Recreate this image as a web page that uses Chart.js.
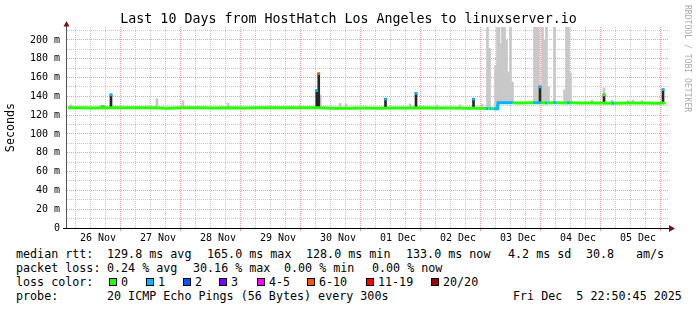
<!DOCTYPE html>
<html>
<head>
<meta charset="utf-8">
<script src="https://cdn.jsdelivr.net/npm/chart.js@4.4.1/dist/chart.umd.min.js"></script>
<style>
  body { margin: 0; background: #fff; }
  #wrap { position: relative; width: 697px; height: 310px; font-family: "DejaVu Sans Mono", monospace; color: #000; overflow: hidden; }
  #box { position: absolute; left: 0; top: 0; width: 697px; height: 245px; }
  #title { position: absolute; left: 0; top: 11px; width: 697px; text-align: center; font-size: 13.3px; line-height: 16px; white-space: pre; }
  #credit { position: absolute; left: 683px; top: 5px; writing-mode: vertical-rl; font-size: 8.1px; line-height: 10px; color: #aaa; white-space: pre; }
  .t { position: absolute; white-space: pre; font-size: 11.7px; line-height: 14px; }
  .sw { position: absolute; top: 278px; width: 6px; height: 6px; border: 1px solid #000; }
</style>
</head>
<body>
<div id="wrap">
  <div id="box"><canvas id="grafico"></canvas></div>
  <div id="title">Last 10 Days from HostHatch Los Angeles to linuxserver.io</div>
  <div id="credit">RRDTOOL / TOBI OETIKER</div>

  <span class="t" style="left:16px;top:247px">median rtt:</span>
  <span class="t" style="left:107px;top:247px">129.8 ms avg</span>
  <span class="t" style="left:207px;top:247px">165.0 ms max</span>
  <span class="t" style="left:306px;top:247px">128.0 ms min</span>
  <span class="t" style="left:406px;top:247px">133.0 ms now</span>
  <span class="t" style="left:508px;top:247px">4.2 ms sd</span>
  <span class="t" style="left:586px;top:247px">30.8</span>
  <span class="t" style="left:636px;top:247px">am/s</span>

  <span class="t" style="left:16px;top:261px">packet loss:</span>
  <span class="t" style="left:107px;top:261px">0.24 % avg</span>
  <span class="t" style="left:193px;top:261px">30.16 % max</span>
  <span class="t" style="left:284px;top:261px">0.00 % min</span>
  <span class="t" style="left:372px;top:261px">0.00 % now</span>

  <span class="t" style="left:16px;top:275px">loss color:</span>
  <div id="lossLegend"></div>

  <span class="t" style="left:16px;top:289px">probe:</span>
  <span class="t" style="left:107px;top:289px">20 ICMP Echo Pings (56 Bytes) every 300s</span>
  <span class="t" style="left:513px;top:289px">Fri Dec  5 22:50:45 2025</span>
</div>
<script>
// rótulos dos dias (eixo x, horas desde 26 Nov 00:00)
const dayLabels = ['26 Nov', '27 Nov', '28 Nov', '29 Nov', '30 Nov', '01 Dec', '02 Dec', '03 Dec', '04 Dec', '05 Dec'];

// cores de perda (smokeping)
const lossLabels = ['0', '1', '2', '3', '4-5', '6-10', '11-19', '20/20'];
const lossColors = ['#26ff00', '#00b8ff', '#0059ff', '#7e00ff', '#ff00ff', '#ff5500', '#ff0000', '#a10000'];

// mediana (ms) e pacotes perdidos
const medianHours = [0, 5, 10, 16, 22, 28, 34, 40, 46, 52, 58, 64, 70, 76, 82, 88, 94, 100, 106, 112, 118, 124, 130, 136, 142, 148, 154, 160, 164,
  167.2, 168.1, 168.8, 169.5, 170.1, 171.8, 172.0, 177.9, 180, 186.0, 189.0, 190.8, 191.7, 194.1, 195.5, 199.5, 200.8, 206, 212, 217.6, 218.4, 224, 230, 236, 238.8];
const medianMs = [127.9, 128.0, 127.6, 127.9, 128.0, 127.8, 127.9, 127.5, 127.8, 128.0, 127.7, 127.9, 127.6, 127.9, 127.8, 128.0, 127.8, 127.9, 127.3, 127.5, 127.6, 127.5, 127.7, 127.6, 127.8, 127.6, 127.7, 127.5, 127.3,
  127.1, 127.0, 127.0, 127.0, 126.9, 126.9, 133.2, 133.3, 133.0, 133.1, 133.2, 133.0, 133.0, 133.1, 133.2, 133.0, 133.1, 132.9, 133.0, 132.8, 132.8, 132.9, 133.0, 132.8, 133.0];
const medianLoss = [0, 0, 0, 0, 0, 0, 0, 0, 0, 0, 0, 0, 0, 0, 0, 0, 0, 0, 0, 0, 0, 0, 0, 0, 0, 0, 0, 0, 0,
  0, 1, 0, 1, 0, 1, 1, 1, 0, 0, 1, 0, 1, 0, 1, 0, 1, 0, 0, 0, 1, 0, 0, 0, 0];

// fumaça (faixa dos pings)
const smokeHours = [1.2, 12.8, 35.6, 46, 64, 92.8, 100.9, 108.8, 111.2, 136.8, 147.6, 156.8, 165.6,
  167.8, 168.6, 171.0, 171.8, 172.4, 173.0, 173.8, 174.6, 175.4, 176.2, 177.0, 177.8,
  186.6, 187.4, 188.2, 189.8, 190.6, 191.4, 192.2, 194.6, 198.6, 199.4, 200.2, 201.0,
  209.6, 214.4, 217.6, 224, 226, 229.6];
const smokeLow = [127.9, 127.9, 127.9, 127.9, 127.9, 127.9, 127.9, 127.4, 127.4, 127.6, 127.6, 127.6, 127.2,
  127, 127, 127, 127, 133, 133, 133, 133, 133, 133, 133, 133,
  133, 133, 133, 133, 133, 133, 133, 133, 133, 133, 133, 133,
  133, 133, 133, 133, 133, 133];
const smokeHigh = [131, 130, 137.5, 135.5, 133, 131, 141, 132.5, 132, 132, 131, 131, 132,
  230, 191, 173, 230, 230, 196, 230, 230, 200, 166, 230, 155,
  230, 230, 230, 230, 200, 230, 150, 230, 147, 230, 230, 165,
  136, 149, 136, 135.5, 136, 135.5];

// picos escuros e perda no topo de cada um
const spikeHours = [14.0, 17.2, 99.5, 100.3, 127.0, 139.2, 162.2, 188.8, 214.4, 238.0];
const spikeLow = [127.9, 127.9, 127.9, 127.9, 127.6, 127.6, 127.5, 133, 133, 133];
const spikeHigh = [130.5, 142.5, 147, 165, 138, 144, 138, 151, 142.5, 148];
const spikeLoss = [0, 1, 1, 7, 1, 1, 1, 1, 0, 1];

function bucket(n) {
  if (n <= 3) return n;
  if (n <= 5) return 4;
  if (n <= 10) return 5;
  if (n <= 19) return 6;
  return 7;
}

// legenda das cores de perda
const swatchX = [109, 146, 183, 219, 257, 307, 366, 431];
const legend = document.getElementById('lossLegend');
lossLabels.forEach((lab, i) => {
  const sw = document.createElement('div');
  sw.className = 'sw';
  sw.style.left = swatchX[i] + 'px';
  sw.style.background = lossColors[i];
  legend.appendChild(sw);
  const tx = document.createElement('span');
  tx.className = 't';
  tx.style.left = (swatchX[i] + 12) + 'px';
  tx.style.top = '275px';
  tx.textContent = lab;
  legend.appendChild(tx);
});

const mono = '"DejaVu Sans Mono", monospace';
const redGrid = 'rgba(240,140,140,0.85)';
const grayGrid = 'rgba(190,190,190,0.85)';

// eixos com setas, estilo rrdtool
const axisArrows = {
  id: 'axisArrows',
  afterDatasetsDraw(chart) {
    const { ctx, chartArea: a } = chart;
    ctx.save();
    ctx.lineWidth = 1;
    ctx.strokeStyle = '#555';
    ctx.beginPath();
    ctx.moveTo(a.left - 0.5, a.bottom + 1);
    ctx.lineTo(a.left - 0.5, a.top - 4);
    ctx.stroke();
    ctx.strokeStyle = '#000';
    ctx.beginPath();
    ctx.moveTo(a.left - 4, a.bottom + 0.5);
    ctx.lineTo(a.right + 1, a.bottom + 0.5);
    ctx.stroke();
    ctx.fillStyle = '#7f1010';
    ctx.beginPath();
    ctx.moveTo(a.left - 3.5, a.top - 0.5);
    ctx.lineTo(a.left + 2.5, a.top - 0.5);
    ctx.lineTo(a.left - 0.5, a.top - 6);
    ctx.closePath();
    ctx.fill();
    ctx.beginPath();
    ctx.moveTo(a.right, a.bottom - 3);
    ctx.lineTo(a.right, a.bottom + 4);
    ctx.lineTo(a.right + 6, a.bottom + 0.5);
    ctx.closePath();
    ctx.fill();
    ctx.restore();
  }
};

const ctx = document.getElementById('grafico').getContext('2d');
new Chart(ctx, {
  type: 'bar',
  data: {
    datasets: [{
      type: 'line',
      data: medianHours.map((h, i) => ({ x: h, y: medianMs[i] })),
      borderColor: lossColors[0],
      borderWidth: 3,
      pointRadius: 0,
      tension: 0,
      segment: { borderColor: c => lossColors[bucket(medianLoss[c.p1DataIndex])] },
      order: 0
    }, {
      data: spikeHours.map((h, i) => ({ x: h, y: [spikeHigh[i] - 2, spikeHigh[i]] })),
      backgroundColor: spikeLoss.map(n => lossColors[bucket(n)]),
      barThickness: 2,
      grouped: false,
      order: 1
    }, {
      data: spikeHours.map((h, i) => ({ x: h, y: [spikeLow[i], spikeHigh[i]] })),
      backgroundColor: '#262626',
      barThickness: 2,
      grouped: false,
      order: 2
    }, {
      data: smokeHours.map((h, i) => ({ x: h, y: [smokeLow[i], smokeHigh[i]] })),
      backgroundColor: '#c8c8c8',
      barThickness: 2,
      grouped: false,
      order: 3
    }]
  },
  options: {
    responsive: true,
    maintainAspectRatio: false,
    animation: false,
    layout: { padding: { top: 27, right: 28, left: 0, bottom: 0 } },
    plugins: { legend: { display: false }, tooltip: { enabled: false }, title: { display: false } },
    scales: {
      x: {
        type: 'linear',
        min: -0.4,
        max: 240.4,
        offset: false,
        afterBuildTicks: s => {
          s.ticks = [];
          for (let h = 0; h <= dayLabels.length * 24; h += 6) s.ticks.push({ value: h });
        },
        afterFit: s => { s.height = 17; },
        ticks: {
          autoSkip: false,
          maxRotation: 0,
          padding: 1,
          color: '#000',
          font: { family: mono, size: 10 },
          callback: v => (v % 24 === 12 ? dayLabels[(v - 12) / 24] : '')
        },
        grid: {
          color: c => (c.tick && c.tick.value % 24 === 0 ? redGrid : grayGrid),
          tickLength: 3,
          tickColor: c => (c.tick && c.tick.value % 24 === 0 ? redGrid : 'rgba(0,0,0,0)')
        },
        border: { display: false, dash: [1, 1] }
      },
      y: {
        min: 0,
        max: 213.8,
        afterBuildTicks: s => {
          s.ticks = [];
          for (let v = 0; v <= 210; v += 10) s.ticks.push({ value: v });
        },
        afterFit: s => { s.width = 67; },
        ticks: {
          autoSkip: false,
          padding: 4,
          color: '#000',
          font: { family: mono, size: 10 },
          callback: v => (v % 20 ? '' : (v === 0 ? '0' : v + ' m'))
        },
        grid: {
          color: c => (!c.tick || c.tick.value === 0 ? 'rgba(0,0,0,0)' : (c.tick.value % 20 === 0 ? redGrid : grayGrid)),
          tickLength: 3,
          tickColor: 'rgba(0,0,0,0)'
        },
        border: { display: false, dash: [1, 1] },
        title: {
          display: true,
          text: 'Seconds',
          color: '#000',
          font: { family: mono, size: 11.7 },
          padding: { top: 4, bottom: 0 }
        }
      }
    }
  },
  plugins: [axisArrows]
});
</script>
</body>
</html>
